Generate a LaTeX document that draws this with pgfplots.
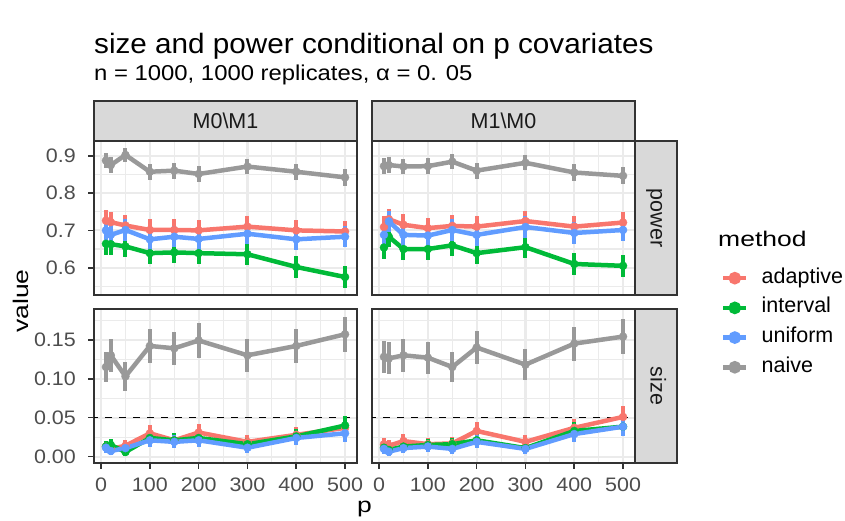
\documentclass[border=0pt]{standalone}
\usepackage{fontspec}
\setmainfont{Liberation Sans}
\newfontfamily\titlefamily{Liberation Sans}[FakeStretch=1.06]
\newfontfamily\subfamily{Liberation Sans}[FakeStretch=1.11]
\newfontfamily\labfamily{Liberation Sans}[FakeStretch=1.25]
\newfontfamily\tickfamily{Liberation Sans}[FakeStretch=1.1]
\usepackage{pgfplots}
\pgfplotsset{compat=1.18}
\usepackage{pgfplotstable}

\newcommand\titlefont{\titlefamily\fontsize{28pt}{30pt}\selectfont}
\newcommand\subfont{\subfamily\fontsize{21.5pt}{23pt}\selectfont}
\newcommand\labfont{\labfamily\fontsize{21.2pt}{23pt}\selectfont}
\newcommand\tickfont{\tickfamily\fontsize{19.5pt}{21pt}\selectfont}
\newcommand\legfont{\fontsize{21.5pt}{23pt}\selectfont}
\newcommand\stripfont{\fontsize{21.5pt}{23pt}\selectfont}

\definecolor{cadap}{HTML}{F8766D}
\definecolor{cint}{HTML}{00BA38}
\definecolor{cuni}{HTML}{619CFF}
\definecolor{cnai}{HTML}{999999}
\definecolor{gtwenty}{HTML}{333333}
\definecolor{gthirty}{HTML}{4D4D4D}
\definecolor{gridc}{HTML}{EBEBEB}
\definecolor{stripc}{HTML}{D9D9D9}
\definecolor{gten}{HTML}{1A1A1A}

% power, M0\M1
\pgfplotstableread{
p   a     ae     i     ie     u     ue     n     ne
10  0.726 0.0277 0.664 0.0293 0.700 0.0284 0.887 0.0196
20  0.722 0.0278 0.663 0.0293 0.688 0.0287 0.875 0.0205
50  0.713 0.0280 0.657 0.0294 0.701 0.0284 0.902 0.0184
100 0.701 0.0284 0.639 0.0298 0.676 0.0290 0.857 0.0217
150 0.701 0.0284 0.641 0.0297 0.683 0.0288 0.860 0.0215
200 0.700 0.0284 0.639 0.0298 0.677 0.0290 0.851 0.0221
300 0.710 0.0281 0.636 0.0298 0.691 0.0286 0.871 0.0208
400 0.700 0.0284 0.602 0.0303 0.676 0.0290 0.857 0.0217
500 0.697 0.0285 0.575 0.0306 0.683 0.0288 0.842 0.0226
}\tTL
% power, M1\M0
\pgfplotstableread{
p   a     ae     i     ie     u     ue     n     ne
10  0.709 0.0282 0.654 0.0295 0.688 0.0287 0.872 0.0207
20  0.730 0.0275 0.683 0.0288 0.724 0.0277 0.875 0.0205
50  0.715 0.0280 0.650 0.0296 0.688 0.0287 0.871 0.0208
100 0.706 0.0282 0.650 0.0296 0.686 0.0288 0.872 0.0207
150 0.712 0.0281 0.660 0.0294 0.701 0.0284 0.884 0.0198
200 0.710 0.0281 0.639 0.0298 0.688 0.0287 0.860 0.0215
300 0.725 0.0277 0.655 0.0295 0.709 0.0282 0.881 0.0201
400 0.710 0.0281 0.610 0.0302 0.693 0.0286 0.855 0.0218
500 0.721 0.0278 0.605 0.0303 0.701 0.0284 0.846 0.0224
}\tTR
% size, M0\M1
\pgfplotstableread{
p   a      ae     i      ie     u      ue     n     ne
10  0.013  0.0070 0.013  0.0070 0.0115 0.0066 0.115 0.0198
20  0.010  0.0062 0.015  0.0075 0.0073 0.0053 0.130 0.0208
50  0.014  0.0073 0.006  0.0048 0.011  0.0065 0.103 0.0188
100 0.030  0.0106 0.024  0.0095 0.021  0.0089 0.142 0.0216
150 0.021  0.0089 0.021  0.0089 0.019  0.0085 0.139 0.0214
200 0.031  0.0107 0.024  0.0095 0.021  0.0089 0.149 0.0221
300 0.019  0.0085 0.016  0.0078 0.0115 0.0066 0.130 0.0208
400 0.028  0.0102 0.026  0.0099 0.024  0.0095 0.142 0.0216
500 0.037  0.0117 0.040  0.0121 0.030  0.0106 0.157 0.0226
}\tBL
% size, M1\M0
\pgfplotstableread{
p   a      ae     i      ie     u      ue     n     ne
10  0.016  0.0078 0.0115 0.0066 0.010  0.0062 0.128 0.0207
20  0.014  0.0073 0.0086 0.0057 0.0064 0.0049 0.126 0.0206
50  0.020  0.0087 0.013  0.0070 0.011  0.0065 0.130 0.0208
100 0.016  0.0078 0.015  0.0075 0.013  0.0070 0.127 0.0206
150 0.017  0.0080 0.016  0.0078 0.010  0.0062 0.115 0.0198
200 0.033  0.0111 0.021  0.0089 0.019  0.0085 0.140 0.0215
300 0.019  0.0085 0.011  0.0065 0.010  0.0062 0.118 0.0200
400 0.037  0.0117 0.033  0.0111 0.029  0.0104 0.145 0.0218
500 0.051  0.0136 0.0385 0.0119 0.0385 0.0119 0.154 0.0224
}\tBR

\pgfplotsset{
  panel/.style={
    scale only axis, width=263pt, height=154pt,
    xmin=-14.5, xmax=524.5,
    xtick={0,100,200,300,400,500},
    xticklabels={0,100,200,300,400,500},
    minor xtick={50,150,250,350,450},
    grid=both,
    major grid style={draw=gridc, line width=2.2pt},
    minor grid style={draw=gridc, line width=1.1pt},
    axis line style={draw=gtwenty, line width=1.6pt},
    tick align=outside,
    major tick length=6pt,
    minor tick length=0pt,
    every tick/.style={draw=gtwenty, line width=1.6pt},
    xtick pos=bottom, ytick pos=left,
    tick label style={font=\tickfont, text=gthirty, inner sep=0pt},
    xticklabel style={anchor=north, yshift=-8.7pt},
    yticklabel style={anchor=east, xshift=-12pt},
    legend image code/.code={\draw[mark repeat=2,mark phase=2,##1] plot coordinates {(0pt,0pt) (11.65pt,0pt) (23.3pt,0pt)};},
  },
  powerpanel/.style={panel, ymin=0.5269, ymax=0.9394,
    ytick={0.6,0.7,0.8,0.9}, yticklabels={0.6,0.7,0.8,0.9},
    minor ytick={0.55,0.65,0.75,0.85},
    xticklabels={}, xtick style={draw=none}},
  sizepanel/.style={panel, ymin=-0.0081, ymax=0.1894,
    ytick={0,0.05,0.1,0.15}, yticklabels={0.00,0.05,0.10,0.15},
    minor ytick={0.025,0.075,0.125,0.175}},
  lin/.style={color=#1, line width=4.5pt, line join=round, mark=none, forget plot},
  pts/.style={color=#1, only marks, mark=*, mark size=4pt,
    mark options={draw=none, fill=#1}, forget plot,
    error bars/.cd, y dir=both, y explicit, error mark=none,
    error bar style={line width=4pt, color=#1, solid}},
  key/.style={color=#1, line width=4.5pt, mark=*, mark size=4pt, mark options={draw=none, fill=#1}},
}

\newcommand\panelplots[1]{%
  \addplot[lin=cadap] table[x=p, y=a] {#1};
  \addplot[lin=cint]  table[x=p, y=i] {#1};
  \addplot[lin=cuni]  table[x=p, y=u] {#1};
  \addplot[lin=cnai]  table[x=p, y=n] {#1};
  \addplot[pts=cadap] table[x=p, y=a, y error=ae] {#1};
  \addplot[pts=cint]  table[x=p, y=i, y error=ie] {#1};
  \addplot[pts=cuni]  table[x=p, y=u, y error=ue] {#1};
  \addplot[pts=cnai]  table[x=p, y=n, y error=ne] {#1};
}

\begin{document}
\begin{tikzpicture}
\useasboundingbox (0,0) rectangle (845pt,521pt);

% titles
\node[anchor=base west, inner sep=0pt, font=\titlefont] at (94pt,467pt) {size and power conditional on p covariates};
\node[anchor=base west, inner sep=0pt, font=\subfont] at (94pt,440pt) {n = 1000, 1000 replicates, α = 0. 05};

% top-left: power, M0\M1
\begin{axis}[powerpanel, at={(94pt,226pt)}, anchor=south west]
\panelplots{\tTL}
\end{axis}

% top-right: power, M1\M0
\begin{axis}[powerpanel, at={(372pt,226pt)}, anchor=south west,
  yticklabels={}, ytick style={draw=none},
  legend style={at={(axis description cs:1.3259,0.169)}, anchor=north west,
    draw=none, fill=none, inner sep=0pt, font=\legfont, row sep=11.7pt,
    nodes={inner sep=0pt, text height=14pt, text depth=4pt},
    /tikz/every odd column/.style={column sep=13pt}},
  legend cell align=left]
\panelplots{\tTR}
\addlegendimage{key=cadap}\addlegendentry{adaptive}
\addlegendimage{key=cint}\addlegendentry{interval}
\addlegendimage{key=cuni}\addlegendentry{uniform}
\addlegendimage{key=cnai}\addlegendentry{naive}
\end{axis}

% bottom-left: size, M0\M1
\begin{axis}[sizepanel, at={(94pt,58pt)}, anchor=south west]
\addplot[black, line width=1.6pt, dash pattern=on 7pt off 7pt, forget plot] coordinates {(-20,0.05) (530,0.05)};
\panelplots{\tBL}
\end{axis}

% bottom-right: size, M1\M0
\begin{axis}[sizepanel, at={(372pt,58pt)}, anchor=south west,
  yticklabels={}, ytick style={draw=none}]
\addplot[black, line width=1.6pt, dash pattern=on 7pt off 7pt, forget plot] coordinates {(-20,0.05) (530,0.05)};
\panelplots{\tBR}
\end{axis}

% strips
\draw[fill=stripc, draw=gtwenty, line width=1.6pt] (94pt,380pt) rectangle (357pt,420pt);
\draw[fill=stripc, draw=gtwenty, line width=1.6pt] (372pt,380pt) rectangle (635pt,420pt);
\draw[fill=stripc, draw=gtwenty, line width=1.6pt] (635pt,226pt) rectangle (677pt,380pt);
\draw[fill=stripc, draw=gtwenty, line width=1.6pt] (635pt,58pt) rectangle (677pt,212pt);
\node[anchor=base, inner sep=0pt, font=\stripfont, text=gten] at (225.5pt,392.3pt) {M0\textbackslash M1};
\node[anchor=base, inner sep=0pt, font=\stripfont, text=gten] at (503.5pt,392.3pt) {M1\textbackslash M0};
\node[anchor=base, inner sep=0pt, font=\stripfont, text=gten, rotate=-90] at (650.5pt,303pt) {power};
\node[anchor=base, inner sep=0pt, font=\stripfont, text=gten, rotate=-90] at (650.5pt,135pt) {size};

% axis titles
\node[anchor=base, inner sep=0pt, font=\labfont, rotate=90] at (28pt,220pt) {value};
\node[anchor=base, inner sep=0pt, font=\labfont] at (364.5pt,8.5pt) {p};

% legend title
\node[anchor=base west, inner sep=0pt, font=\labfont] at (718pt,274.3pt) {method};
\end{tikzpicture}
\end{document}
